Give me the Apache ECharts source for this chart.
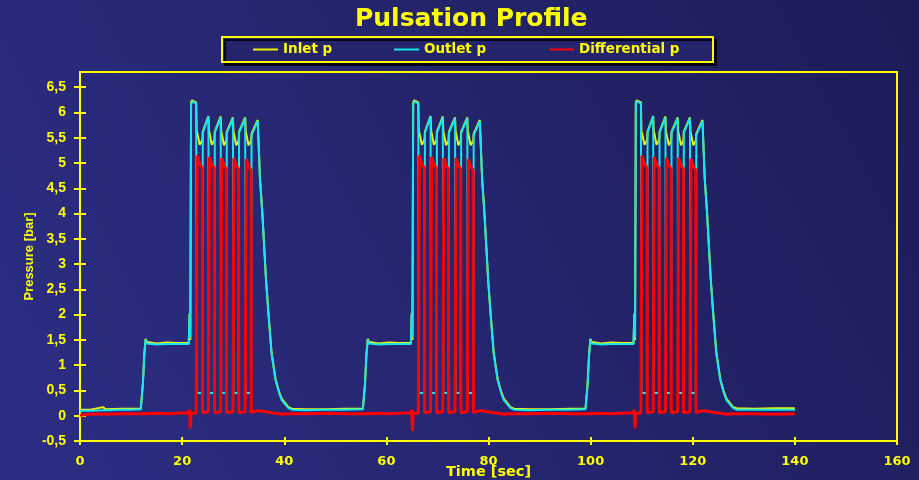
<!DOCTYPE html>
<html>
<head>
<meta charset="utf-8">
<title>Pulsation Profile</title>
<script src="https://cdn.jsdelivr.net/npm/echarts@6/dist/echarts.min.js"></script>
<style>
    html, body { margin: 0; padding: 0; background: #24246c; }
    #main { width: 919px; height: 480px; }
</style>
</head>
<body>
<div id="main"></div>
<script>
    // 采样时间 [sec]，三条曲线共用
    var time = [
        0, 2, 4.5, 5, 8, 10, 11.9,
        // 第一个循环
        12.0, 12.3, 12.6, 12.85, 13.1, 15, 17, 19,
        21.3, 21.45, 21.6, 21.75, 21.95, 22.75,
        22.85, 22.95, 23.45, 23.95, 24.0, 24.05, 25.15,
        25.25, 25.35, 25.8, 26.3, 26.35, 26.4, 27.55,
        27.65, 27.75, 28.2, 28.65, 28.7, 28.75, 29.95,
        30.05, 30.15, 30.6, 31.05, 31.1, 31.15, 32.35,
        32.45, 32.55, 33.0, 33.5, 33.55, 33.6, 34.8,
        35.25, 35.7, 36.43, 36.9, 37.5, 38.3, 39.0, 39.5, 40.8, 41.5,
        44, 48, 52, 55.4,
        // 第二个循环
        55.5, 55.8, 56.1, 56.35, 56.6, 58.5, 60.5, 62.5,
        64.8, 64.95, 65.1, 65.25, 65.45, 66.25,
        66.35, 66.45, 66.95, 67.45, 67.5, 67.55, 68.65,
        68.75, 68.85, 69.3, 69.8, 69.85, 69.9, 71.05,
        71.15, 71.25, 71.7, 72.15, 72.2, 72.25, 73.45,
        73.55, 73.65, 74.1, 74.55, 74.6, 74.65, 75.85,
        75.95, 76.05, 76.5, 77.0, 77.05, 77.1, 78.3,
        78.75, 79.2, 79.93, 80.4, 81.0, 81.8, 82.5, 83.0, 84.3, 85.0,
        88, 92, 96, 99.0,
        // 第三个循环
        99.1, 99.4, 99.7, 99.95, 100.2, 102.1, 104.1, 106.1,
        108.4, 108.55, 108.7, 108.85, 109.05, 109.85,
        109.95, 110.05, 110.55, 111.05, 111.1, 111.15, 112.25,
        112.35, 112.45, 112.9, 113.4, 113.45, 113.5, 114.65,
        114.75, 114.85, 115.3, 115.75, 115.8, 115.85, 117.05,
        117.15, 117.25, 117.7, 118.15, 118.2, 118.25, 119.45,
        119.55, 119.65, 120.1, 120.6, 120.65, 120.7, 121.9,
        122.35, 122.8, 123.53, 124.0, 124.6, 125.4, 126.1, 126.6, 127.9, 128.6,
        132, 136, 140
    ];
    // Inlet p [bar]
    var inletP = [
        0.12, 0.12, 0.17, 0.13, 0.14, 0.14, 0.14,
        0.14, 0.62, 1.22, 1.52, 1.46, 1.43, 1.45, 1.44,
        1.44, 2.02, 1.5, 6.2, 6.24, 6.2,
        5.65, 5.6, 5.36, 5.45, 5.5, 5.62, 5.93,
        5.65, 5.6, 5.36, 5.45, 5.5, 5.62, 5.92,
        5.64, 5.58, 5.35, 5.44, 5.5, 5.62, 5.9,
        5.64, 5.58, 5.35, 5.44, 5.5, 5.62, 5.9,
        5.64, 5.58, 5.35, 5.44, 5.5, 5.58, 5.85,
        4.7, 4.03, 2.7, 2.05, 1.27, 0.72, 0.47, 0.34, 0.17, 0.14,
        0.13, 0.13, 0.14, 0.14,
        0.14, 0.62, 1.22, 1.52, 1.46, 1.43, 1.45, 1.44,
        1.44, 2.02, 1.5, 6.2, 6.24, 6.2,
        5.65, 5.6, 5.36, 5.45, 5.5, 5.62, 5.93,
        5.65, 5.6, 5.36, 5.45, 5.5, 5.62, 5.92,
        5.64, 5.58, 5.35, 5.44, 5.5, 5.62, 5.9,
        5.64, 5.58, 5.35, 5.44, 5.5, 5.62, 5.9,
        5.64, 5.58, 5.35, 5.44, 5.5, 5.58, 5.85,
        4.7, 4.03, 2.7, 2.05, 1.27, 0.72, 0.47, 0.34, 0.17, 0.14,
        0.13, 0.13, 0.14, 0.14,
        0.14, 0.62, 1.22, 1.52, 1.46, 1.43, 1.45, 1.44,
        1.44, 2.02, 1.5, 6.2, 6.24, 6.2,
        5.65, 5.6, 5.36, 5.45, 5.5, 5.62, 5.93,
        5.65, 5.6, 5.36, 5.45, 5.5, 5.62, 5.92,
        5.64, 5.58, 5.35, 5.44, 5.5, 5.62, 5.9,
        5.64, 5.58, 5.35, 5.44, 5.5, 5.62, 5.9,
        5.64, 5.58, 5.35, 5.44, 5.5, 5.58, 5.85,
        4.7, 4.03, 2.7, 2.05, 1.27, 0.72, 0.47, 0.34, 0.17, 0.15,
        0.14, 0.15, 0.15
    ];
    // Outlet p [bar]
    var outletP = [
        0.1, 0.1, 0.11, 0.11, 0.12, 0.12, 0.13,
        0.13, 0.6, 1.2, 1.5, 1.43, 1.41, 1.42, 1.42,
        1.42, 2.0, 1.55, 6.15, 6.22, 6.18,
        0.45, 0.45, 0.45, 0.45, 0.45, 5.6, 5.92,
        0.45, 0.45, 0.45, 0.45, 0.45, 5.6, 5.9,
        0.45, 0.45, 0.45, 0.45, 0.45, 5.6, 5.88,
        0.45, 0.45, 0.45, 0.45, 0.45, 5.6, 5.88,
        0.45, 0.45, 0.45, 0.45, 0.45, 5.55, 5.83,
        4.66, 4.0, 2.68, 2.02, 1.24, 0.7, 0.45, 0.31, 0.15, 0.12,
        0.11, 0.12, 0.12, 0.13,
        0.13, 0.6, 1.2, 1.5, 1.43, 1.41, 1.42, 1.42,
        1.42, 2.0, 1.55, 6.15, 6.22, 6.18,
        0.45, 0.45, 0.45, 0.45, 0.45, 5.6, 5.92,
        0.45, 0.45, 0.45, 0.45, 0.45, 5.6, 5.9,
        0.45, 0.45, 0.45, 0.45, 0.45, 5.6, 5.88,
        0.45, 0.45, 0.45, 0.45, 0.45, 5.6, 5.88,
        0.45, 0.45, 0.45, 0.45, 0.45, 5.55, 5.83,
        4.66, 4.0, 2.68, 2.02, 1.24, 0.7, 0.45, 0.31, 0.15, 0.12,
        0.11, 0.12, 0.12, 0.13,
        0.13, 0.6, 1.2, 1.5, 1.43, 1.41, 1.42, 1.42,
        1.42, 2.0, 1.55, 6.15, 6.22, 6.18,
        0.45, 0.45, 0.45, 0.45, 0.45, 5.6, 5.92,
        0.45, 0.45, 0.45, 0.45, 0.45, 5.6, 5.9,
        0.45, 0.45, 0.45, 0.45, 0.45, 5.6, 5.88,
        0.45, 0.45, 0.45, 0.45, 0.45, 5.6, 5.88,
        0.45, 0.45, 0.45, 0.45, 0.45, 5.55, 5.83,
        4.66, 4.0, 2.68, 2.02, 1.24, 0.7, 0.45, 0.31, 0.15, 0.12,
        0.12, 0.12, 0.12
    ];
    // Differential p [bar]
    var diffP = [
        0.01, 0.03, 0.04, 0.03, 0.04, 0.04, 0.04,
        0.03, 0.04, 0.04, 0.04, 0.05, 0.05, 0.04, 0.05,
        0.06, 0.12, -0.25, 0.05, 0.04, 0.05,
        0.08, 5.15, 4.98, 4.9, 0.06, 0.07, 0.08,
        0.08, 5.12, 4.97, 4.9, 0.06, 0.07, 0.08,
        0.08, 5.1, 4.95, 4.88, 0.06, 0.07, 0.08,
        0.08, 5.1, 4.95, 4.88, 0.06, 0.07, 0.08,
        0.08, 5.08, 4.93, 4.86, 0.06, 0.08, 0.1,
        0.1, 0.09, 0.08, 0.07, 0.06, 0.05, 0.04, 0.03, 0.04, 0.04,
        0.04, 0.05, 0.04, 0.04,
        0.03, 0.04, 0.04, 0.04, 0.05, 0.05, 0.04, 0.05,
        0.06, 0.12, -0.3, 0.05, 0.04, 0.05,
        0.08, 5.15, 4.98, 4.9, 0.06, 0.07, 0.08,
        0.08, 5.12, 4.97, 4.9, 0.06, 0.07, 0.08,
        0.08, 5.1, 4.95, 4.88, 0.06, 0.07, 0.08,
        0.08, 5.1, 4.95, 4.88, 0.06, 0.07, 0.08,
        0.08, 5.08, 4.93, 4.86, 0.06, 0.08, 0.1,
        0.1, 0.09, 0.08, 0.07, 0.06, 0.05, 0.04, 0.03, 0.04, 0.04,
        0.04, 0.05, 0.04, 0.04,
        0.03, 0.04, 0.04, 0.04, 0.05, 0.05, 0.04, 0.05,
        0.06, 0.12, -0.25, 0.05, 0.04, 0.05,
        0.08, 5.15, 4.98, 4.9, 0.06, 0.07, 0.08,
        0.08, 5.12, 4.97, 4.9, 0.06, 0.07, 0.08,
        0.08, 5.1, 4.95, 4.88, 0.06, 0.07, 0.08,
        0.08, 5.1, 4.95, 4.88, 0.06, 0.07, 0.08,
        0.08, 5.08, 4.93, 4.86, 0.06, 0.08, 0.1,
        0.1, 0.09, 0.08, 0.07, 0.06, 0.05, 0.04, 0.03, 0.04, 0.04,
        0.04, 0.03, 0.04
    ];
    var seriesNames = ['Inlet p', 'Outlet p', 'Differential p'];
    var xTicks = [0, 20, 40, 60, 80, 100, 120, 140, 160];
    var yTicks = [-0.5, 0, 0.5, 1, 1.5, 2, 2.5, 3, 3.5, 4, 4.5, 5, 5.5, 6, 6.5];

    var yellow = '#ffff00';
    var arial = '"Liberation Sans", Arial, sans-serif';
    var wide = '"DejaVu Sans", Verdana, sans-serif';

    function pairs(values) {
        return time.map(function(t, i) { return [t, values[i]]; });
    }
    // 小数点用逗号
    function comma(v) {
        return String(v).replace('.', ',');
    }

    var myChart = echarts.init(document.getElementById('main'));
    var option = {
        animation: false,
        backgroundColor: {
            type: 'linear', x: 0, y: 1, x2: 1, y2: 0,
            colorStops: [
                { offset: 0, color: '#2c2e84' },
                { offset: 0.5, color: '#25256e' },
                { offset: 1, color: '#1d1c58' }
            ]
        },
        title: {
            text: 'Pulsation Profile',
            left: 355,
            top: 7,
            padding: 0,
            textStyle: {
                color: yellow, fontSize: 25, fontWeight: 'bold', fontFamily: wide,
                textShadowColor: 'rgba(0,0,20,0.9)', textShadowOffsetX: 2, textShadowOffsetY: 2
            }
        },
        legend: {
            left: 222,
            top: 37,
            padding: [5, 32, 5, 31],
            itemWidth: 25,
            itemHeight: 2,
            itemGap: 10,
            icon: 'rect',
            borderColor: yellow,
            borderWidth: 2,
            borderRadius: 0,
            backgroundColor: '#24246c',
            shadowColor: 'rgba(0,0,0,0.85)',
            shadowOffsetX: 3,
            shadowOffsetY: 3,
            textStyle: { color: yellow, fontSize: 13.5, fontWeight: 'bold', fontFamily: wide, lineHeight: 15 },
            data: [
                { name: seriesNames[0], textStyle: { width: 101 } },
                { name: seriesNames[1], textStyle: { width: 115 } },
                { name: seriesNames[2], textStyle: { width: 102 } }
            ]
        },
        grid: {
            left: 80, right: 22, top: 72, bottom: 39,
            outerBoundsMode: 'none',
            containLabel: false,
            show: true, borderColor: yellow, borderWidth: 2
        },
        xAxis: [{
            type: 'value', min: 0, max: 160, interval: 20,
            name: 'Time [sec]', nameLocation: 'middle', nameGap: 24, nameMoveOverlap: false,
            nameTextStyle: { color: yellow, fontSize: 14.5, fontWeight: 'bold', fontFamily: wide },
            axisLine: { show: true, onZero: false, lineStyle: { color: yellow, width: 2 } },
            axisTick: { show: true, length: 4, customValues: xTicks, lineStyle: { color: yellow, width: 2 } },
            axisLabel: { customValues: xTicks, color: yellow, fontSize: 13, fontWeight: 'bold', fontFamily: wide, margin: 14 },
            splitLine: { show: false }
        }, {
            type: 'value', min: 0, max: 160, position: 'bottom',
            axisLine: { show: false, onZero: false },
            axisTick: { show: true, inside: true, length: 4, customValues: xTicks, lineStyle: { color: yellow, width: 2 } },
            axisLabel: { show: false },
            splitLine: { show: false }
        }],
        yAxis: [{
            type: 'value', min: -0.5, max: 6.8,
            name: 'Pressure [bar]', nameLocation: 'middle', nameGap: 44, nameRotate: 90, nameMoveOverlap: false,
            nameTextStyle: { color: yellow, fontSize: 13, fontWeight: 'bold', fontFamily: arial },
            axisLine: { show: true, onZero: false, lineStyle: { color: yellow, width: 2 } },
            axisTick: { show: true, length: 6, customValues: yTicks, lineStyle: { color: yellow, width: 2 } },
            axisLabel: { customValues: yTicks, formatter: comma, color: yellow, fontSize: 14, fontWeight: 'bold', fontFamily: arial, margin: 14 },
            splitLine: { show: false }
        }, {
            type: 'value', min: -0.5, max: 6.8, position: 'left',
            axisLine: { show: false, onZero: false },
            axisTick: { show: true, inside: true, length: 6, customValues: yTicks, lineStyle: { color: yellow, width: 2 } },
            axisLabel: { show: false },
            splitLine: { show: false }
        }],
        series: [{
            name: seriesNames[0], type: 'line', symbol: 'none', color: '#f2f200',
            lineStyle: { width: 2 }, data: pairs(inletP)
        }, {
            name: seriesNames[1], type: 'line', symbol: 'none', color: '#12e6f0',
            lineStyle: { width: 2 }, data: pairs(outletP)
        }, {
            name: seriesNames[2], type: 'line', symbol: 'none', color: '#ff0000',
            lineStyle: { width: 3 }, data: pairs(diffP)
        }]
    };
    myChart.setOption(option);
</script>
</body>
</html>
